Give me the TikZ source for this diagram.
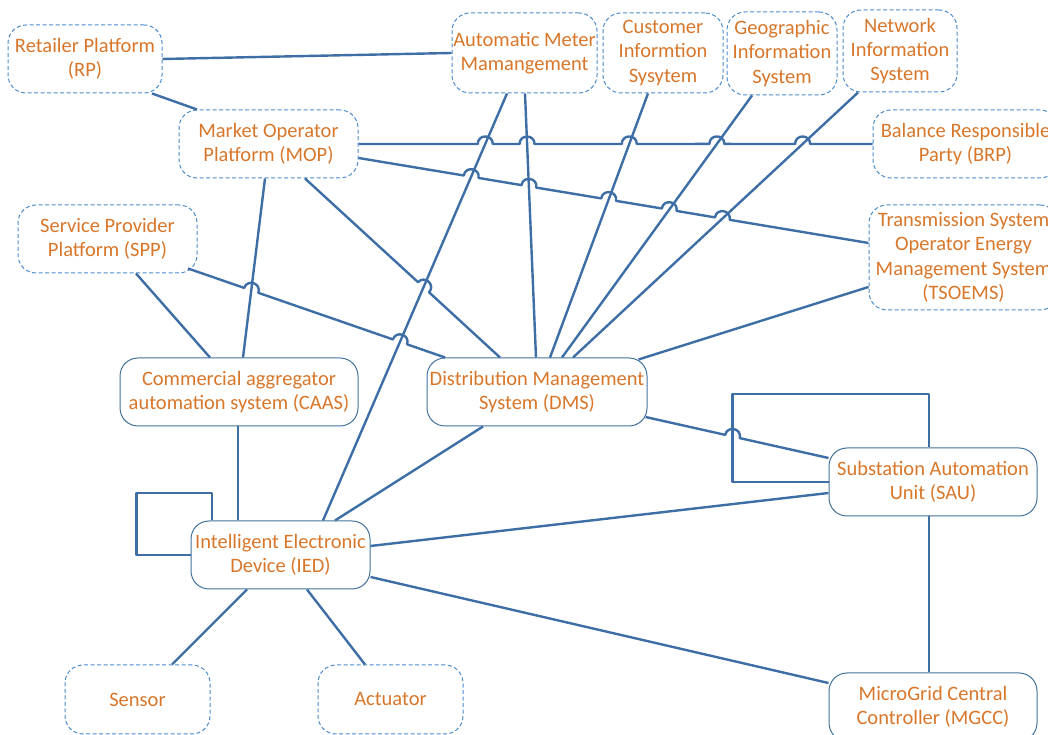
\documentclass[tikz,border=0pt]{standalone}
\usepackage{fontspec}
\setmainfont{Carlito}
\usetikzlibrary{calc}
\definecolor{txtor}{RGB}{216,118,42}
\definecolor{dashblue}{RGB}{76,140,204}
\definecolor{boxblue}{RGB}{65,113,156}
\definecolor{linkblue}{RGB}{62,110,166}
\newcommand\mkhop[4]{%
  \coordinate (#1a) at ($(#4)!7.5pt!(#2)$);
  \coordinate (#1b) at ($(#4)!7.5pt!(#3)$);
  \coordinate (#1c) at ($(#1a)!10pt!90:(#4)$);
  \coordinate (#1d) at ($(#1b)!10pt!-90:(#4)$);
}
\newcommand\hopto[1]{-- (#1a) .. controls (#1c) and (#1d) .. (#1b)}
\tikzset{
  base/.style={rounded corners=18pt, minimum height=68pt, align=center, text=txtor,
    font=\fontsize{20.5}{24.3}\selectfont, inner sep=0pt},
  dbox/.style={base, draw=dashblue, line width=1pt, dash pattern=on 4pt off 2.5pt},
  sbox/.style={base, draw=boxblue, line width=1pt},
  link/.style={draw=linkblue, line width=2.4pt, line join=round},
}
\begin{document}
\begin{tikzpicture}[x=1pt,y=1pt]
\useasboundingbox (0,0) rectangle (1048,735);
% nodes
\node[dbox, minimum width=154pt] (RP) at (85,676) {Retailer Platform\\(RP)};
\node[dbox, minimum width=145pt, minimum height=80pt] (AMM) at (524.5,682) {Automatic Meter\\Mamangement};
\node[dbox, minimum width=120pt, minimum height=80pt] (CIS) at (663,682) {Customer\\Informtion\\Sysytem};
\node[dbox, minimum width=110pt, minimum height=83pt] (GIS) at (782,681.5) {Geographic\\Information\\System};
\node[dbox, minimum width=114pt, minimum height=82pt] (NIS) at (900,684) {Network\\Information\\System};
\node[dbox, minimum width=179pt] (MOP) at (268.5,591) {Market Operator\\Platform (MOP)};
\node[dbox, minimum width=185pt] (BRP) at (965.5,591) {Balance Responsible\\Party (BRP)};
\node[dbox, minimum width=189pt, minimum height=105pt] (TSO) at (963.5,477.5) {Transmission System\\Operator Energy\\Management System\\(TSOEMS)};
\node[dbox, minimum width=179pt] (SPP) at (107.5,496) {Service Provider\\Platform (SPP)};
\node[sbox, minimum width=238pt] (CAAS) at (239,343) {Commercial aggregator\\automation system (CAAS)};
\node[sbox, minimum width=220pt] (DMS) at (537,343) {Distribution Management\\System (DMS)};
\node[sbox, minimum width=208pt] (SAU) at (933,253) {Substation Automation\\Unit (SAU)};
\node[sbox, minimum width=179pt] (IED) at (280.5,180) {Intelligent Electronic\\Device (IED)};
\node[dbox, minimum width=145pt, minimum height=69pt] (SEN) at (137.5,35.5) {Sensor};
\node[dbox, minimum width=145pt, minimum height=69pt] (ACT) at (390.5,35.5) {Actuator};
\node[sbox, minimum width=208pt] (MGCC) at (933,28) {MicroGrid Central\\Controller (MGCC)};
% connector end points
\coordinate (ai1) at ([xshift=-17.5]AMM.south);
\coordinate (ai2) at ([xshift=42.5]IED.north);
\coordinate (ad1) at ([xshift=0.5]AMM.south);
\coordinate (ad2) at ([xshift=-1]DMS.north);
\coordinate (cd1) at ([xshift=-15]CIS.south);
\coordinate (cd2) at ([xshift=13]DMS.north);
\coordinate (gd1) at ([xshift=-30]GIS.south);
\coordinate (gd2) at ([xshift=25]DMS.north);
\coordinate (nd1) at ([xshift=-42]NIS.south);
\coordinate (nd2) at ([xshift=36]DMS.north);
\coordinate (mc1) at ([xshift=-3.5]MOP.south);
\coordinate (mc2) at ([xshift=4]CAAS.north);
\coordinate (mb1) at (MOP.east);
\coordinate (mb2) at (BRP.west);
\coordinate (mt1) at ([yshift=-14]MOP.east);
\coordinate (mt2) at ([yshift=14.5]TSO.west);
\coordinate (md1) at ([xshift=36.5]MOP.south);
\coordinate (md2) at ([xshift=-37]DMS.north);
\coordinate (sd1) at ([xshift=80.5,yshift=5]SPP.south);
\coordinate (sd2) at ([xshift=-92]DMS.north);
\coordinate (ds1) at ([xshift=-2,yshift=-25]DMS.east);
\coordinate (ds2) at ([yshift=24]SAU.west);
\coordinate (lp1) at ([xshift=-96]SAU.west);
\coordinate (lp2) at ([xshift=-96,yshift=88]SAU.west);
% crossing points
\coordinate (PB1) at (intersection of mb1--mb2 and ai1--ai2);
\coordinate (PB2) at (intersection of mb1--mb2 and ad1--ad2);
\coordinate (PB3) at (intersection of mb1--mb2 and cd1--cd2);
\coordinate (PB4) at (intersection of mb1--mb2 and gd1--gd2);
\coordinate (PB5) at (intersection of mb1--mb2 and nd1--nd2);
\coordinate (PT1) at (intersection of mt1--mt2 and ai1--ai2);
\coordinate (PT2) at (intersection of mt1--mt2 and ad1--ad2);
\coordinate (PT3) at (intersection of mt1--mt2 and cd1--cd2);
\coordinate (PT4) at (intersection of mt1--mt2 and gd1--gd2);
\coordinate (PT5) at (intersection of mt1--mt2 and nd1--nd2);
\coordinate (PM1) at (intersection of md1--md2 and ai1--ai2);
\coordinate (PS1) at (intersection of sd1--sd2 and mc1--mc2);
\coordinate (PS2) at (intersection of sd1--sd2 and ai1--ai2);
\coordinate (PD1) at (intersection of ds1--ds2 and lp1--lp2);
\mkhop{HB1}{mb1}{mb2}{PB1}
\mkhop{HB2}{mb1}{mb2}{PB2}
\mkhop{HB3}{mb1}{mb2}{PB3}
\mkhop{HB4}{mb1}{mb2}{PB4}
\mkhop{HB5}{mb1}{mb2}{PB5}
\mkhop{HT1}{mt1}{mt2}{PT1}
\mkhop{HT2}{mt1}{mt2}{PT2}
\mkhop{HT3}{mt1}{mt2}{PT3}
\mkhop{HT4}{mt1}{mt2}{PT4}
\mkhop{HT5}{mt1}{mt2}{PT5}
\mkhop{HM1}{md1}{md2}{PM1}
\mkhop{HS1}{sd1}{sd2}{PS1}
\mkhop{HS2}{sd1}{sd2}{PS2}
\mkhop{HD1}{ds1}{ds2}{PD1}
% straight connectors
\draw[link] (RP.east) -- (AMM.west);
\draw[link] ([xshift=67]RP.south) -- ([xshift=-71.5]MOP.north);
\draw[link] (ai1) -- (ai2);
\draw[link] (ad1) -- (ad2);
\draw[link] (cd1) -- (cd2);
\draw[link] (gd1) -- (gd2);
\draw[link] (nd1) -- (nd2);
\draw[link] (mc1) -- (mc2);
\draw[link] ([xshift=28.5]SPP.south) -- ([xshift=-29]CAAS.north);
\draw[link] ([yshift=-29.5]TSO.west) -- ([xshift=-9,yshift=-2]DMS.north east);
\draw[link] ([xshift=-1]CAAS.south) -- ([xshift=-42.5]IED.north);
\draw[link] ([xshift=-54]DMS.south) -- ([xshift=54.5]IED.north);
\draw[link] ([yshift=9]IED.east) -- ([yshift=-11]SAU.west);
\draw[link] ([yshift=-22]IED.east) -- ([yshift=24]MGCC.west);
\draw[link] ([xshift=-4]SAU.south) -- ([xshift=-4]MGCC.north);
\draw[link] ([xshift=-33.5]IED.south) -- ([xshift=34.5]SEN.north);
\draw[link] ([xshift=26.5]IED.south) -- ([xshift=-25.5]ACT.north);
% self loops
\draw[link] (SAU.west) -- (lp1) -- (lp2) -| ([xshift=-4]SAU.north);
\draw[link] (IED.west) -- ++(-54,0) -- ++(0,62) -| ([xshift=-68.5]IED.north);
% connectors with hops
\draw[link] (mb1) \hopto{HB1} \hopto{HB2} \hopto{HB3} \hopto{HB4} \hopto{HB5} -- (mb2);
\draw[link] (mt1) \hopto{HT1} \hopto{HT2} \hopto{HT3} \hopto{HT4} \hopto{HT5} -- (mt2);
\draw[link] (md1) \hopto{HM1} -- (md2);
\draw[link] (sd1) \hopto{HS1} \hopto{HS2} -- (sd2);
\draw[link] (ds1) \hopto{HD1} -- (ds2);
\end{tikzpicture}
\end{document}
